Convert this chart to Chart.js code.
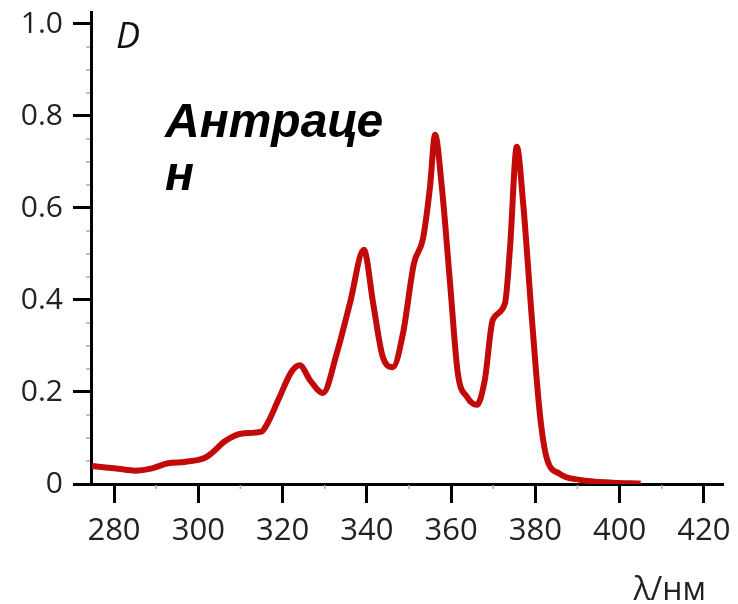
<!DOCTYPE html>
<html>
<head>
<meta charset="utf-8">
<script src="https://cdn.jsdelivr.net/npm/chart.js@4"></script>
<style>
  html, body { margin: 0; padding: 0; background: #fff; }
  #wrap { width: 738px; height: 604px; }
</style>
</head>
<body>
<div id="wrap"><canvas id="spectrum"></canvas></div>
<script>
// absorption spectrum of anthracene
const wavelengths = [274.8, 278, 281, 285, 289, 292.8, 296.8, 301.6, 303.3, 306.3, 310.4, 315, 316.5, 319,
  322.2, 324.1, 326.5, 329.6, 332.9, 336, 339.3, 341.5, 343.8, 346.2, 348.6, 351.2, 353.3, 355, 356.2,
  357.8, 359.7, 361.6, 363.8, 366.1, 368, 369.9, 372.8, 374, 375.6, 377.1, 379.2, 381.1, 382.6, 385.8,
  390.6, 398.4, 405];
const absorbance = [0.039, 0.036, 0.033, 0.029, 0.034, 0.045, 0.048, 0.057, 0.068, 0.093, 0.110, 0.114, 0.133, 0.183,
  0.245, 0.258, 0.226, 0.198, 0.285, 0.393, 0.509, 0.393, 0.276, 0.254, 0.328, 0.48, 0.532, 0.646, 0.759,
  0.646, 0.443, 0.241, 0.189, 0.172, 0.226, 0.357, 0.393, 0.515, 0.733, 0.611, 0.357, 0.15, 0.06, 0.022,
  0.009, 0.003, 0.001];

const xTicks = [280, 300, 320, 340, 360, 380, 400, 420];
const yTicks = [0, 0.2, 0.4, 0.6, 0.8, 1.0];
const xMinor = [290, 310, 330, 350, 370, 390, 410];
const yMinor = [0.05, 0.1, 0.15, 0.25, 0.3, 0.35, 0.45, 0.5, 0.55, 0.65, 0.7, 0.75, 0.85, 0.9, 0.95];

const points = wavelengths.map((x, i) => ({ x: x, y: absorbance[i] }));

const annotations = {
  id: 'annotations',
  afterDraw(chart) {
    const { ctx, chartArea, scales } = chart;
    ctx.save();
    // minor ticks
    ctx.strokeStyle = '#aaa';
    ctx.lineWidth = 1.5;
    xMinor.forEach(v => {
      const px = scales.x.getPixelForValue(v);
      ctx.beginPath();
      ctx.moveTo(px, chartArea.bottom + 1);
      ctx.lineTo(px, chartArea.bottom + 5);
      ctx.stroke();
    });
    yMinor.forEach(v => {
      const py = scales.y.getPixelForValue(v);
      ctx.beginPath();
      ctx.moveTo(chartArea.left - 5, py);
      ctx.lineTo(chartArea.left - 1, py);
      ctx.stroke();
    });

    ctx.fillStyle = '#111';
    ctx.textBaseline = 'alphabetic';
    ctx.textAlign = 'left';
    ctx.font = 'italic 36px "Open Sans"';
    ctx.fillText('D', chartArea.left + 25, 48);

    ctx.fillStyle = '#000';
    ctx.font = 'bold italic 48px "Liberation Sans"';
    ctx.fillText('Антраце', 165, 137);
    ctx.fillText('н', 165, 190);

    ctx.fillStyle = '#222';
    ctx.textAlign = 'right';
    ctx.font = '32px "Open Sans"';
    ctx.fillText('λ/нм', chartArea.right - 16, 600);
    ctx.restore();
  }
};

new Chart(document.getElementById('spectrum'), {
  type: 'line',
  data: {
    datasets: [{
      data: points,
      borderColor: '#c30a0a',
      borderWidth: 6,
      pointRadius: 0,
      fill: false,
      cubicInterpolationMode: 'monotone'
    }]
  },
  options: {
    responsive: true,
    maintainAspectRatio: false,
    animation: false,
    layout: { padding: { left: 0, top: 12, right: 16, bottom: 0 } },
    plugins: { legend: { display: false }, tooltip: { enabled: false } },
    scales: {
      x: {
        type: 'linear',
        min: 274.54,
        max: 424.3,
        afterBuildTicks: s => { s.ticks = xTicks.map(v => ({ value: v })); },
        afterFit: s => { s.height = 120; s.paddingLeft = 0; s.paddingRight = 0; },
        border: { display: true, color: '#000', width: 3 },
        grid: { drawOnChartArea: false, drawTicks: true, tickLength: 19, color: '#000', lineWidth: 3 },
        ticks: { color: '#222', font: { family: 'Open Sans', size: 31 }, padding: 10, maxRotation: 0 }
      },
      y: {
        min: 0,
        max: 1.026,
        afterBuildTicks: s => { s.ticks = yTicks.map(v => ({ value: v })); },
        afterFit: s => { s.width = 91; s.paddingTop = 0; s.paddingBottom = 0; },
        border: { display: true, color: '#000', width: 3 },
        grid: { drawOnChartArea: false, drawTicks: true, tickLength: 18, color: '#000', lineWidth: 3 },
        ticks: {
          color: '#222',
          font: { family: 'Open Sans', size: 30 },
          padding: 10,
          callback: v => v === 0 ? '0' : v.toFixed(1)
        }
      }
    }
  },
  plugins: [annotations]
});
</script>
</body>
</html>
